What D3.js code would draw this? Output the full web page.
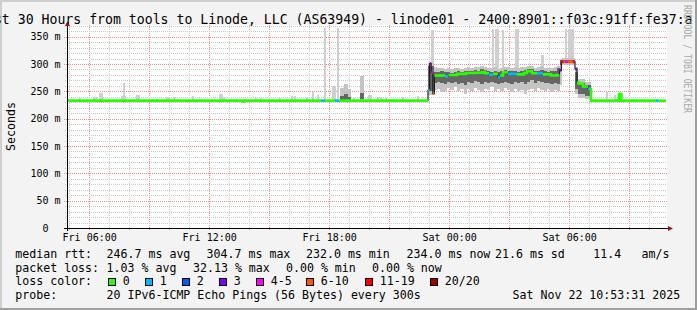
<!DOCTYPE html>
<html lang="en">
<head>
<meta charset="utf-8"/>
<title>SmokePing - linode01</title>
<script src="https://d3js.org/d3.v7.min.js"></script>
<style>
  body { margin: 0; background: #f3f3f3; }
  svg { display: block; font-family: "DejaVu Sans Mono", monospace; }
  .grid-minor { stroke: #c8c8c8; stroke-dasharray: 1,1; shape-rendering: crispEdges; }
  .grid-major { stroke: #f08a8a; stroke-dasharray: 1,1; shape-rendering: crispEdges; }
  .legend text { font-size: 11.6px; fill: #000; white-space: pre; }
  .axis text { font-size: 10px; fill: #000; font-family: "DejaVu Sans Mono", monospace; }
</style>
</head>
<body>
<svg id="chart" width="697" height="310"></svg>
<script>
// window: last 30 hours up to Sat Nov 22 10:53:31 2025
var windowStart = Date.UTC(2025, 10, 21, 4, 53, 31);
var windowHours = 30;

// median rtt as a step series: hours after window start, ms, lost pings (of 20)
var medianT = [0, 8.78, 8.88, 12.73, 12.9, 13.4, 13.6, 18.05, 18.13, 18.21, 18.29, 18.37, 18.9, 19.07, 19.5, 19.95, 20.4, 20.75, 20.9, 21.1, 21.3, 21.55, 21.65, 21.8, 22.05, 22.5, 22.85, 23.0, 23.25, 23.5, 23.8, 24.2, 24.5, 24.62, 24.72, 24.82, 24.9, 25.05, 25.3, 25.4, 25.5, 25.6, 25.8, 26.05, 26.15, 26.2, 27.6, 27.72, 29.45, 29.55, 29.95];
var medianMs = [233, 231.5, 233, 233, 233, 233, 233, 252, 301, 284, 246, 279, 277.5, 280, 282, 283.5, 284, 285.5, 283, 280.5, 282, 276, 279, 285, 282, 281, 283.5, 287, 283, 283, 281, 279, 280, 288.5, 304, 304, 305, 304, 304, 291, 266, 264, 259, 255, 254, 233, 245, 233, 233, 233, null];
var medianLoss = [0, 0, 0, 1, 0, 1, 0, 1, 3, 4, 7, 0, 1, 0, 0, 0, 0, 0, 0, 1, 0, 1, 0, 0, 1, 0, 0, 0, 0, 1, 0, 0, 0, 3, 12, 7, 4, 7, 12, 3, 0, 0, 0, 1, 0, 0, 0, 0, 1, 0, null];

// single outlier pings, each one 5 minute step wide
var spikeT = [0.6, 1.3, 1.4, 1.6, 1.7, 2.7, 2.8, 2.85, 3.45, 3.55, 4.25, 4.5, 4.95, 5.05, 5.3, 6.25, 7.6, 7.7, 7.8, 8.4, 9.4, 9.65, 10.6, 11.2, 11.35, 11.95, 12.25, 12.5, 12.85, 13.25, 13.35, 13.5, 14.3, 15.05, 15.15, 15.5, 15.65, 15.9, 16.75, 17.5, 18.2, 18.27, 21.25, 21.4, 21.5, 21.75, 22.4, 22.5, 23.7, 23.78, 24.9, 25.05, 25.15, 25.25, 26.95, 27.35];
var spikeMs = [238, 239, 239, 247, 247, 241, 266, 241, 243, 243, 236, 236, 240, 240, 240, 241, 245, 245, 240, 236, 237, 237, 238, 241, 241, 238, 249, 243, 365, 259, 259, 365, 238, 243, 243, 239, 239, 237, 240, 242, 363, 363, 364, 364, 364, 363, 364, 364, 317, 317, 364, 364, 364, 364, 249, 243];

// smoke as a step series (null = no smoke): outer and inner band, ms
var smokeT = [13.65, 13.85, 14.05, 14.2, 14.65, 14.85, 18.05, 18.35, 18.5, 18.67, 18.83, 19.0, 19.17, 19.33, 19.5, 19.67, 19.83, 20.0, 20.17, 20.33, 20.5, 20.67, 20.83, 21.0, 21.17, 21.33, 21.5, 21.67, 21.83, 22.0, 22.17, 22.33, 22.5, 22.67, 22.83, 23.0, 23.17, 23.33, 23.5, 23.67, 23.83, 24.0, 24.17, 24.33, 24.5, 24.65, 24.75, 25.4, 25.55, 25.9, 26.2];
var smokeMin = [233, 233, 233, null, 233, null, 244, 252, 255, 249, 251, 256, 253, 258, 250, 254, 246, 255, 251, 257, 252, 249, 255, 253, 258, 250, 254, 251, 256, 252, 248, 255, 250, 253, 246, 252, 255, 251, 257, 253, 250, 254, 249, 252, 250, 262, 299, 245, 238, 236, null];
var smokeMax = [256, 263, 254, null, 279, null, 302, 294, 292, 293, 291, 292, 290, 292, 293, 291, 292, 294, 293, 295, 294, 296, 295, 293, 292, 294, 291, 293, 295, 294, 293, 294, 292, 294, 295, 297, 296, 293, 294, 296, 293, 292, 293, 295, 297, 310, 311, 295, 272, 268, null];
var smokeLow = [234, 235, 234, null, 236, null, 250, 266, 268, 265, 264, 267, 265, 268, 264, 266, 262, 268, 266, 269, 267, 264, 268, 266, 268, 265, 264, 266, 268, 266, 264, 267, 265, 267, 263, 268, 270, 266, 269, 267, 265, 266, 264, 265, 264, 298, 302, 255, 246, 242, null];
var smokeHigh = [242, 246, 240, null, 247, null, 296, 286, 286, 287, 285, 286, 284, 286, 287, 286, 287, 288, 288, 289, 288, 290, 289, 288, 286, 287, 285, 287, 289, 288, 287, 288, 286, 288, 289, 291, 290, 287, 288, 289, 287, 286, 287, 288, 292, 308, 307, 285, 266, 262, null];

var yTicks = [0, 50, 100, 150, 200, 250, 300, 350];
var lossLabels = ["0", "1", "2", "3", "4-5", "6-10", "11-19", "20/20"];
var lossColors = ["#26ff00", "#00b8ff", "#0059ff", "#7e00ff", "#ff00ff", "#ff5500", "#ff0000", "#a10000"];
var lossBreaks = [1, 2, 3, 4, 6, 11, 20];

var rttStats = ["246.7 ms avg", "304.7 ms max", "232.0 ms min", "234.0 ms now", "21.6 ms sd", "11.4", "am/s"];
var lossStats = ["1.03 % avg", "32.13 % max", "0.00 % min", "0.00 % now"];
var probeText = "20 IPv6-ICMP Echo Pings (56 Bytes) every 300s";
var stampText = "Sat Nov 22 10:53:31 2025";
var titleText = "Last 30 Hours from tools to Linode, LLC (AS63949) - linode01 - 2400:8901::f03c:91ff:fe37:a";

// layout
var W = 697, H = 310;
var pLeft = 67, pRight = 667, pTop = 25, pBottom = 228;

var svg = d3.select("#chart");

// frame
svg.append("rect").attr("width", W).attr("height", H).attr("fill", "#f3f3f3");
svg.append("path").attr("d", "M0,1H" + W + "M1,0V" + H).attr("stroke", "#cfcfcf").attr("stroke-width", 2);
svg.append("path").attr("d", "M0," + (H - 1) + "H" + W + "M" + (W - 1) + ",0V" + H).attr("stroke", "#9e9e9e").attr("stroke-width", 2);

var x = d3.scaleUtc()
	.domain([new Date(windowStart), new Date(windowStart + windowHours * 3600e3)])
	.range([pLeft, pRight]);
var y = d3.scaleLinear()
	.domain([0, 371.4])
	.range([pBottom, pTop]);
function tx(h) { return x(new Date(windowStart + h * 3600e3)); }
var lossColor = d3.scaleThreshold().domain(lossBreaks).range(lossColors);

// canvas
svg.append("rect")
	.attr("x", pLeft).attr("y", pTop)
	.attr("width", pRight - pLeft).attr("height", pBottom - pTop)
	.attr("fill", "#fff");

// grid
var grid = svg.append("g");
var hours = d3.utcHour.range(x.domain()[0], x.domain()[1]);
grid.selectAll("line.v")
	.data(hours)
	.enter().append("line")
	.attr("class", function(d) { return d.getUTCHours() % 3 === 0 ? "grid-major" : "grid-minor"; })
	.attr("x1", function(d) { return Math.round(x(d)) + 0.5; })
	.attr("x2", function(d) { return Math.round(x(d)) + 0.5; })
	.attr("y1", pTop)
	.attr("y2", function(d) { return d.getUTCHours() % 3 === 0 ? pBottom + 3 : pBottom + 2; });
grid.selectAll("line.h")
	.data(d3.range(10, 371, 10))
	.enter().append("line")
	.attr("class", function(d) { return d % 50 === 0 ? "grid-major" : "grid-minor"; })
	.attr("x1", function(d) { return d % 50 === 0 ? pLeft - 3 : pLeft - 2; })
	.attr("x2", pRight)
	.attr("y1", function(d) { return Math.round(y(d)) + 0.5; })
	.attr("y2", function(d) { return Math.round(y(d)) + 0.5; });

function medianAt(h) {
	var i = Math.max(0, d3.bisectRight(medianT, h) - 1);
	return medianMs[i] != null ? medianMs[i] : 233;
}
var step = 5 / 60;

// outlier columns
svg.append("g")
	.attr("fill", "#cfcfcf")
	.attr("shape-rendering", "crispEdges")
	.selectAll("rect")
	.data(spikeT)
	.enter().append("rect")
	.attr("x", function(d) { return tx(d); })
	.attr("width", function(d) { return tx(d + step) - tx(d); })
	.attr("y", function(d, i) { return y(spikeMs[i]); })
	.attr("height", function(d, i) { return y(medianAt(d)) - y(spikeMs[i]); });

// smoke
var smokeIdx = d3.range(smokeT.length - 1).filter(function(i) { return smokeMin[i] != null; });
function band(lo, hi, color) {
	svg.append("g")
		.attr("fill", color)
		.attr("shape-rendering", "crispEdges")
		.selectAll("rect")
		.data(smokeIdx)
		.enter().append("rect")
		.attr("x", function(i) { return tx(smokeT[i]); })
		.attr("width", function(i) { return tx(smokeT[i + 1]) - tx(smokeT[i]); })
		.attr("y", function(i) { return y(hi[i]); })
		.attr("height", function(i) { return y(lo[i]) - y(hi[i]); });
}
band(smokeMin, smokeMax, "#c4c4c4");
band(smokeLow, smokeHigh, "#666666");

// median: dark step line, then loss coloured runs on top
var pts = medianT.map(function(t, i) {
	return { t: t, v: medianMs[i] != null ? medianMs[i] : medianMs[i - 1], loss: medianLoss[i] };
});
var stepLine = d3.line()
	.x(function(d) { return tx(d.t); })
	.y(function(d) { return y(d.v); })
	.curve(d3.curveStepAfter);
svg.append("path")
	.attr("d", stepLine(pts))
	.attr("fill", "none")
	.attr("stroke", "#202020")
	.attr("stroke-width", 1.2);

var runs = [];
for (var i = 0; i < pts.length - 1; i++) {
	var c = lossColor(pts[i].loss);
	var last = runs[runs.length - 1];
	if (last && last.color === c && last.end === i) {
		last.pts.push(pts[i]);
		last.end = i + 1;
	} else {
		runs.push({ color: c, pts: [pts[i]], end: i + 1 });
	}
}
runs.forEach(function(r) {
	r.pts.push({ t: pts[r.end].t, v: r.pts[r.pts.length - 1].v });
});
svg.append("g")
	.selectAll("path")
	.data(runs)
	.enter().append("path")
	.attr("d", function(r) { return stepLine(r.pts); })
	.attr("fill", "none")
	.attr("stroke", function(r) { return r.color; })
	.attr("stroke-width", 2.6);

// axes
var xAxis = svg.append("g")
	.attr("class", "axis")
	.attr("transform", "translate(0," + pBottom + ")")
	.call(d3.axisBottom(x)
		.tickValues(d3.utcHour.every(6).range(x.domain()[0], x.domain()[1]))
		.tickSize(0)
		.tickFormat(d3.utcFormat("%a %H:%M")));
xAxis.select(".domain").remove();
xAxis.selectAll("text").attr("y", 12.5).attr("dy", null);

var yAxis = svg.append("g")
	.attr("class", "axis")
	.attr("transform", "translate(" + pLeft + ",0)")
	.call(d3.axisLeft(y)
		.tickValues(yTicks)
		.tickSize(0)
		.tickPadding(6.5)
		.tickFormat(function(d) { return d ? d + " m" : "0"; }));
yAxis.select(".domain").remove();
yAxis.selectAll("text").attr("dx", function(d) { return d ? 0 : -12; });

svg.append("path")
	.attr("d", "M" + (pLeft - 3) + "," + (pBottom + 0.5) + "H" + (pRight + 3) + "M" + (pLeft + 0.5) + "," + (pBottom + 3) + "V" + (pTop - 2))
	.attr("stroke", "#000").attr("fill", "none");
svg.append("path")
	.attr("d", "M" + (pLeft - 2) + "," + (pTop + 1) + "L" + (pLeft + 0.5) + "," + (pTop - 4) + "L" + (pLeft + 3) + "," + (pTop + 1) + "Z"
		+ "M" + (pRight + 1) + "," + (pBottom - 2) + "L" + (pRight + 6) + "," + (pBottom + 0.5) + "L" + (pRight + 1) + "," + (pBottom + 3) + "Z")
	.attr("fill", "#a01010");

// title and axis label
svg.append("text")
	.attr("x", -22).attr("y", 23.5)
	.attr("font-size", "13.2px")
	.style("white-space", "pre")
	.text(titleText);
svg.append("text")
	.attr("transform", "translate(15,126.5) rotate(-90)")
	.attr("text-anchor", "middle")
	.attr("font-size", "11.6px")
	.text("Seconds");
svg.append("text")
	.attr("transform", "translate(684,5) rotate(90)")
	.attr("font-size", "10px")
	.attr("fill", "#a9a9a9")
	.attr("textLength", 108)
	.attr("lengthAdjust", "spacingAndGlyphs")
	.text("RRDTOOL / TOBI OETIKER");

// legend
var legend = svg.append("g").attr("class", "legend");
var rowY = [257.5, 271.5, 285.3, 299];
var rttX = [106.6, 206.6, 306, 406.6, 495, 593.3, 641.6];
var lossX = [106.6, 193, 286, 372];
legend.append("text").attr("x", 15.3).attr("y", rowY[0]).text("median rtt:");
legend.selectAll("text.rtt")
	.data(rttStats)
	.enter().append("text")
	.attr("class", "rtt")
	.attr("x", function(d, i) { return rttX[i]; })
	.attr("y", rowY[0])
	.text(function(d) { return d; });
legend.append("text").attr("x", 15.3).attr("y", rowY[1]).text("packet loss:");
legend.selectAll("text.loss")
	.data(lossStats)
	.enter().append("text")
	.attr("class", "loss")
	.attr("x", function(d, i) { return lossX[i]; })
	.attr("y", rowY[1])
	.text(function(d) { return d; });

legend.append("text").attr("x", 15.3).attr("y", rowY[2]).text("loss color:");
var boxX = [108.5, 145.5, 182.5, 219.5, 256.5, 306.5, 365.5, 430.5];
var sw = legend.selectAll("g.sw")
	.data(lossLabels)
	.enter().append("g")
	.attr("class", "sw")
	.attr("transform", function(d, i) { return "translate(" + boxX[i] + ",0)"; });
sw.append("rect")
	.attr("y", 278.5)
	.attr("width", 7).attr("height", 7)
	.attr("fill", function(d, i) { return lossColors[i]; })
	.attr("stroke", "#000");
sw.append("text")
	.attr("x", 14.3)
	.attr("y", rowY[2])
	.text(function(d) { return d; });

legend.append("text").attr("x", 15.3).attr("y", rowY[3]).text("probe:");
legend.append("text").attr("x", 106.6).attr("y", rowY[3]).text(probeText);
legend.append("text").attr("x", 512.6).attr("y", rowY[3]).text(stampText);
</script>
</body>
</html>
